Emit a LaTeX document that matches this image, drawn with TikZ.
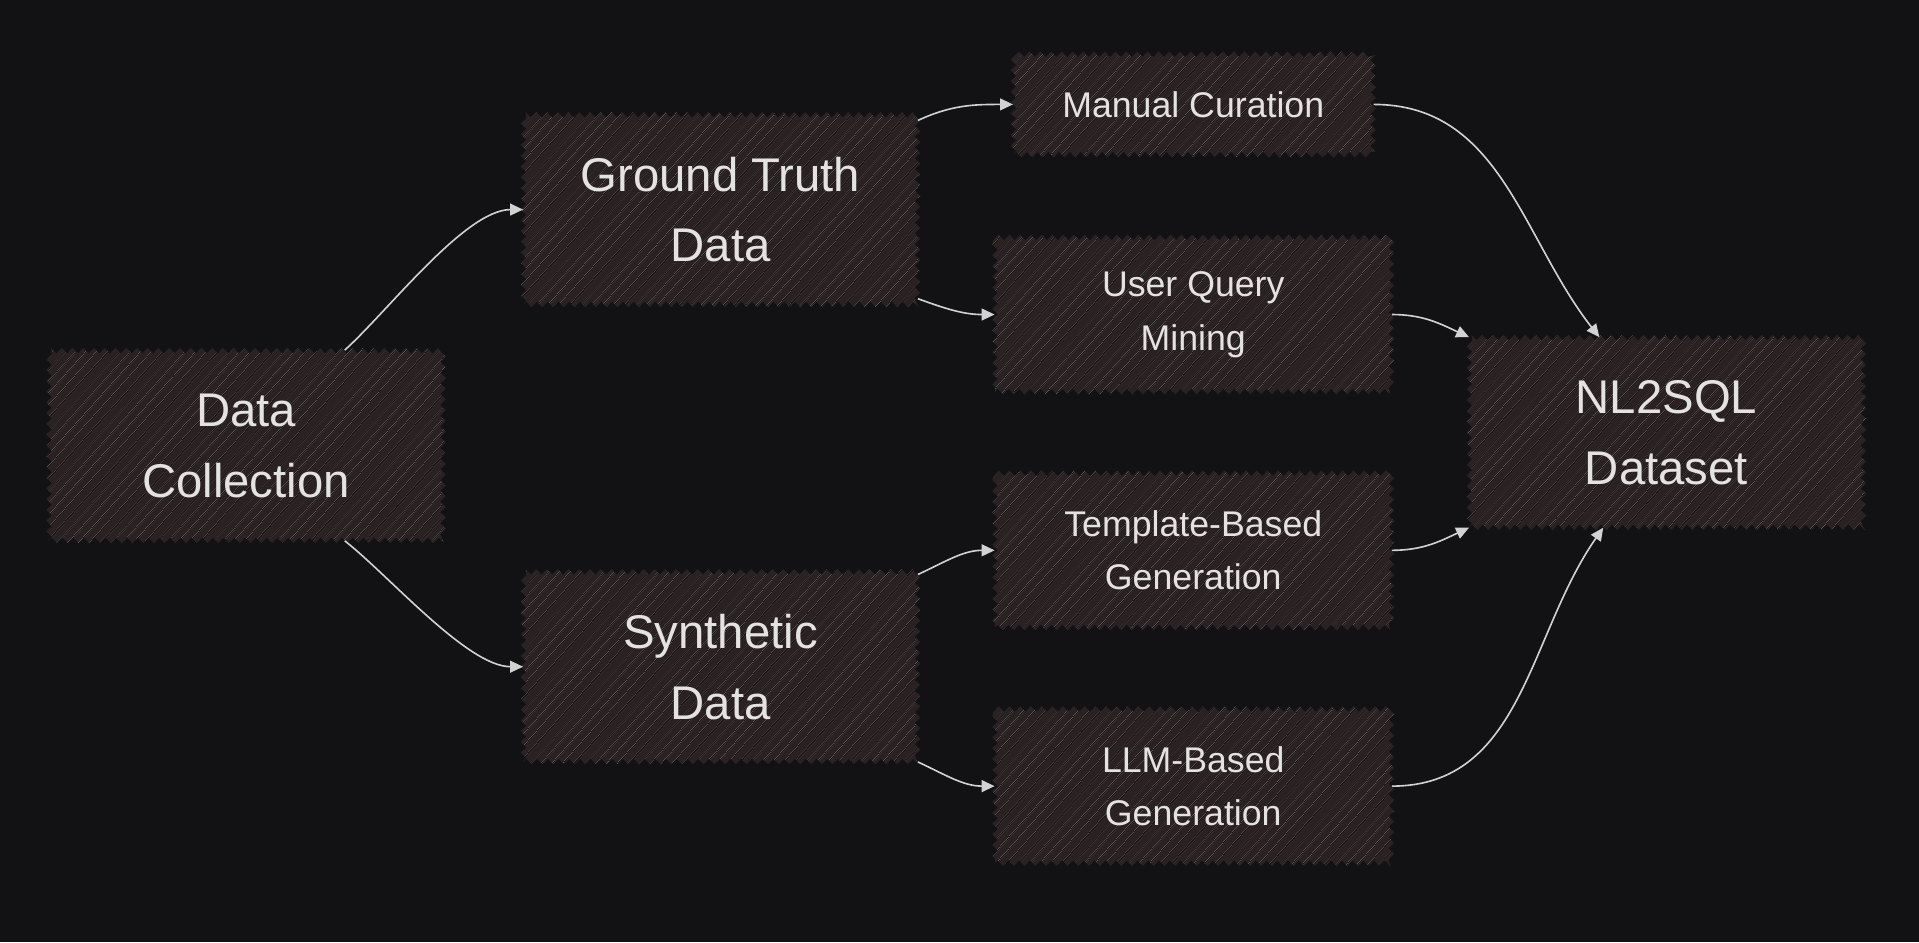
\documentclass[tikz,border=0pt]{standalone}
\usepackage{fontspec}
\setmainfont{Liberation Sans}
\usetikzlibrary{positioning, calc, arrows.meta, patterns.meta, decorations.pathmorphing}
\definecolor{bgcol}{HTML}{121214}
\definecolor{boxfill}{HTML}{2A2123}
\definecolor{streak}{HTML}{171415}
\definecolor{txtcol}{HTML}{E4E2E2}
\definecolor{linecol}{HTML}{D2D2D2}

\tikzset{
    sketch/.style={preaction={fill=boxfill}, pattern={Lines[angle=48,distance=4pt,line width=0.5pt]},
        pattern color=streak, decorate, decoration={zigzag, segment length=5pt, amplitude=1.3pt},
        text=txtcol, align=center, inner sep=0pt},
    bigbox/.style={sketch, minimum width=6.44cm, minimum height=3.1cm, font=\fontsize{22}{33}\selectfont},
    smallbox/.style={sketch, minimum width=6.48cm, minimum height=2.52cm, font=\fontsize{16.6}{25}\selectfont},
    flow/.style={draw=linecol, line width=0.75pt, -{Triangle[length=6pt,width=5.5pt]}},
}

\begin{document}
\begin{tikzpicture}[x=0.02cm, y=-0.02cm]
            \fill[bgcol] (0,0) rectangle (1568,770);
            \useasboundingbox (0,0) rectangle (1568,770);
            % sources
            \node[bigbox] (collect) at (201,364) {Data\\Collection};
            \node[bigbox, above right=0.74cm and 1.3cm of collect] (truth) {Ground Truth\\Data};
            \node[bigbox, below right=0.5cm and 1.3cm of collect] (synth) {Synthetic\\Data};
            % methods
            \node[smallbox] (mining) at (975,257) {User Query\\Mining};
            \node[smallbox, minimum width=5.88cm, minimum height=1.64cm, above=1.34cm of mining] (manual) {Manual Curation};
            \node[smallbox, below=1.32cm of mining] (template) {Template-Based\\Generation};
            \node[smallbox, below=1.32cm of template] (llm) {LLM-Based\\Generation};
            % target
            \node[bigbox, right=1.26cm of $(mining.east)!0.5!(template.east)$] (dataset) {NL2SQL\\Dataset};
            % arrows
            \draw[flow] ($(collect.north)!0.5!(collect.north east)$) to[out=42, in=180, looseness=0.65] (truth.west);
            \draw[flow] ($(collect.south)!0.5!(collect.south east)$) to[out=-38, in=180, looseness=0.65] (synth.west);
            \draw[flow] ([yshift=-0.1cm]truth.north east) to[out=25, in=180] (manual.west);
            \draw[flow] ([yshift=0.1cm]truth.south east) to[out=-20, in=180] (mining.west);
            \draw[flow] ([yshift=-0.05cm]synth.north east) to[out=25, in=180] (template.west);
            \draw[flow] (synth.south east) to[out=-25, in=180] (llm.west);
            \draw[flow] (manual.east) to[out=0, in=128] ($(dataset.north west)!0.33!(dataset.north east)$);
            \draw[flow] (mining.east) to[out=0, in=155] (dataset.north west);
            \draw[flow] (template.east) to[out=0, in=205] (dataset.south west);
            \draw[flow] (llm.east) to[out=0, in=235] ($(dataset.south west)!0.34!(dataset.south east)$);
\end{tikzpicture}
\end{document}
